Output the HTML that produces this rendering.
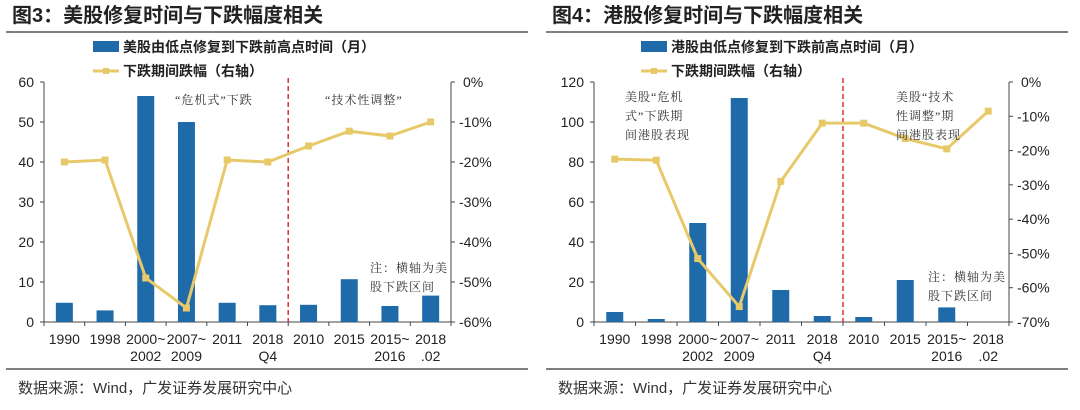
<!DOCTYPE html>
<html><head><meta charset="utf-8">
<style>
body{margin:0;width:1080px;height:405px;background:#fff;overflow:hidden;font-family:"Liberation Sans","Noto Sans CJK SC",sans-serif;}
svg text{font-family:"Liberation Sans","Noto Sans CJK SC",sans-serif;}
svg text.serif{font-family:"Liberation Serif","Noto Serif CJK SC",serif;}
</style></head><body>
<svg id="s" width="1080" height="405"></svg>
<script>
const categories=[["1990"],["1998"],["2000~","2002"],["2007~","2009"],["2011"],["2018","Q4"],["2010"],["2015"],["2015~","2016"],["2018",".02"]];
const usBars=[4.8,2.9,56.5,50,4.8,4.2,4.3,10.7,4,6.6];
const usLine=[-20,-19.5,-49,-56.5,-19.5,-20,-16,-12.3,-13.5,-10];
const hkBars=[5,1.5,49.5,112,16,3,2.5,21,7.3,0];
const hkLine=[-22.5,-22.8,-51.5,-65.5,-29,-12,-12,-16.5,-19.5,-8.5];
const usLeftTicks=[0,10,20,30,40,50,60];
const usRightTicks=[0,-10,-20,-30,-40,-50,-60];
const hkLeftTicks=[0,20,40,60,80,100,120];
const hkRightTicks=[0,-10,-20,-30,-40,-50,-60,-70];
const S=document.getElementById('s');const NS='http://www.w3.org/2000/svg';
function el(t,a,txt){const e=document.createElementNS(NS,t);for(const k in a)e.setAttribute(k,a[k]);if(txt!=null)e.textContent=txt;S.appendChild(e);return e;}
function chart(o){
 const x0=o.x0,x1=o.x1,yT=82,yB=322,n=categories.length,bw=(x1-x0)/n;
 const yL=v=>yB-(v/o.lmax)*(yB-yT);
 const yR=v=>yT+(v/o.rmin)*(yB-yT);
 const cx=i=>x0+bw*(i+0.5);
 let e;
 e=el('text',{x:o.ox+12,y:22,'font-size':20,'font-weight':'bold',fill:'#222'},o.title);
 
 e=el('line',{x1:o.ox+6,x2:o.ox+528,y1:32,y2:32,stroke:'#555','stroke-width':1.5});
 
 e=el('rect',{x:o.lgx,y:41,width:26,height:11,fill:'#1f6aa8'});
 
 e=el('text',{x:o.lgx+30,y:52,'font-size':14,'font-weight':'bold',fill:'#222'},o.leg1);
 
 e=el('line',{x1:o.lgx,x2:o.lgx+26,y1:71,y2:71,stroke:'#e8c96a','stroke-width':3});
 
 e=el('rect',{x:o.lgx+10,y:68,width:6,height:6,fill:'#e8c96a'});
 
 e=el('text',{x:o.lgx+30,y:76,'font-size':14,'font-weight':'bold',fill:'#222'},'下跌期间跌幅（右轴）');
 
 e=el('line',{x1:x0,x2:x0,y1:yT,y2:yB,stroke:'#444'});
 e=el('line',{x1:x1,x2:x1,y1:yT,y2:yB,stroke:'#444'});
 e=el('line',{x1:x0-4,x2:x1+4,y1:yB,y2:yB,stroke:'#444'});
 o.lt.forEach(v=>{e=el('line',{x1:x0-4,x2:x0,y1:yL(v),y2:yL(v),stroke:'#444'});
  e=el('text',{x:x0-10,y:yL(v)+5,'font-size':14,'text-anchor':'end',fill:'#222'},v);});
 o.rt.forEach(v=>{e=el('line',{x1:x1,x2:x1+4,y1:yR(v),y2:yR(v),stroke:'#444'});
  e=el('text',{x:x1+(v==0?12:8),y:yR(v)+5,'font-size':14,fill:'#222'},v+'%');});
 for(let i=0;i<=n;i++){e=el('line',{x1:x0+bw*i,x2:x0+bw*i,y1:yB,y2:yB+4,stroke:'#444'});}
 categories.forEach((c,i)=>c.forEach((t,j)=>{e=el('text',{x:cx(i),y:yB+22+j*17,'font-size':14,'text-anchor':'middle',fill:'#222'},t);}));
 o.bars.forEach((v,i)=>{if(v<=0)return;e=el('rect',{x:cx(i)-8.5,y:yL(v),width:17,height:yB-yL(v),fill:'#1f6aa8'});});
 e=el('line',{x1:x0+bw*6,x2:x0+bw*6,y1:yT-4,y2:yB,stroke:'#e03030','stroke-width':1.5,'stroke-dasharray':'5,3'});
 
 e=el('polyline',{points:o.line.map((v,i)=>cx(i)+','+yR(v)).join(' '),fill:'none',stroke:'#e8c96a','stroke-width':3});
 
 o.line.forEach((v,i)=>{e=el('rect',{x:cx(i)-3.5,y:yR(v)-3.5,width:7,height:7,fill:'#e8c96a'});});
 o.notes.forEach(nt=>nt.lines.forEach((t,j)=>{e=el('text',{x:nt.x,y:nt.y+j*19,'font-size':12,fill:'#333','class':'serif','letter-spacing':'1'},t);}));
 e=el('line',{x1:o.ox+6,x2:o.ox+528,y1:369,y2:369,stroke:'#555','stroke-width':1.5});
 
 e=el('text',{x:o.ox+18,y:393,'font-size':15,fill:'#333'},'数据来源：Wind，广发证券发展研究中心');
 
}
chart({ox:0,x0:44,x1:451,lmax:60,rmin:-60,lt:usLeftTicks,rt:usRightTicks,bars:usBars,line:usLine,lgx:93,
 title:'图3：美股修复时间与下跌幅度相关',leg1:'美股由低点修复到下跌前高点时间（月）',
 notes:[{x:175,y:104,lines:['“危机式”下跌']},{x:325,y:104,lines:['“技术性调整”']},{x:370,y:272,lines:['注：横轴为美','股下跌区间']}]});
chart({ox:540,x0:594,x1:1009,lmax:120,rmin:-70,lt:hkLeftTicks,rt:hkRightTicks,bars:hkBars,line:hkLine,lgx:641,
 title:'图4：港股修复时间与下跌幅度相关',leg1:'港股由低点修复到下跌前高点时间（月）',
 notes:[{x:625,y:101,lines:['美股“危机','式”下跌期','间港股表现']},{x:896,y:101,lines:['美股“技术','性调整”期','间港股表现']},{x:928,y:281,lines:['注：横轴为美','股下跌区间']}]});
</script>
</body></html>
